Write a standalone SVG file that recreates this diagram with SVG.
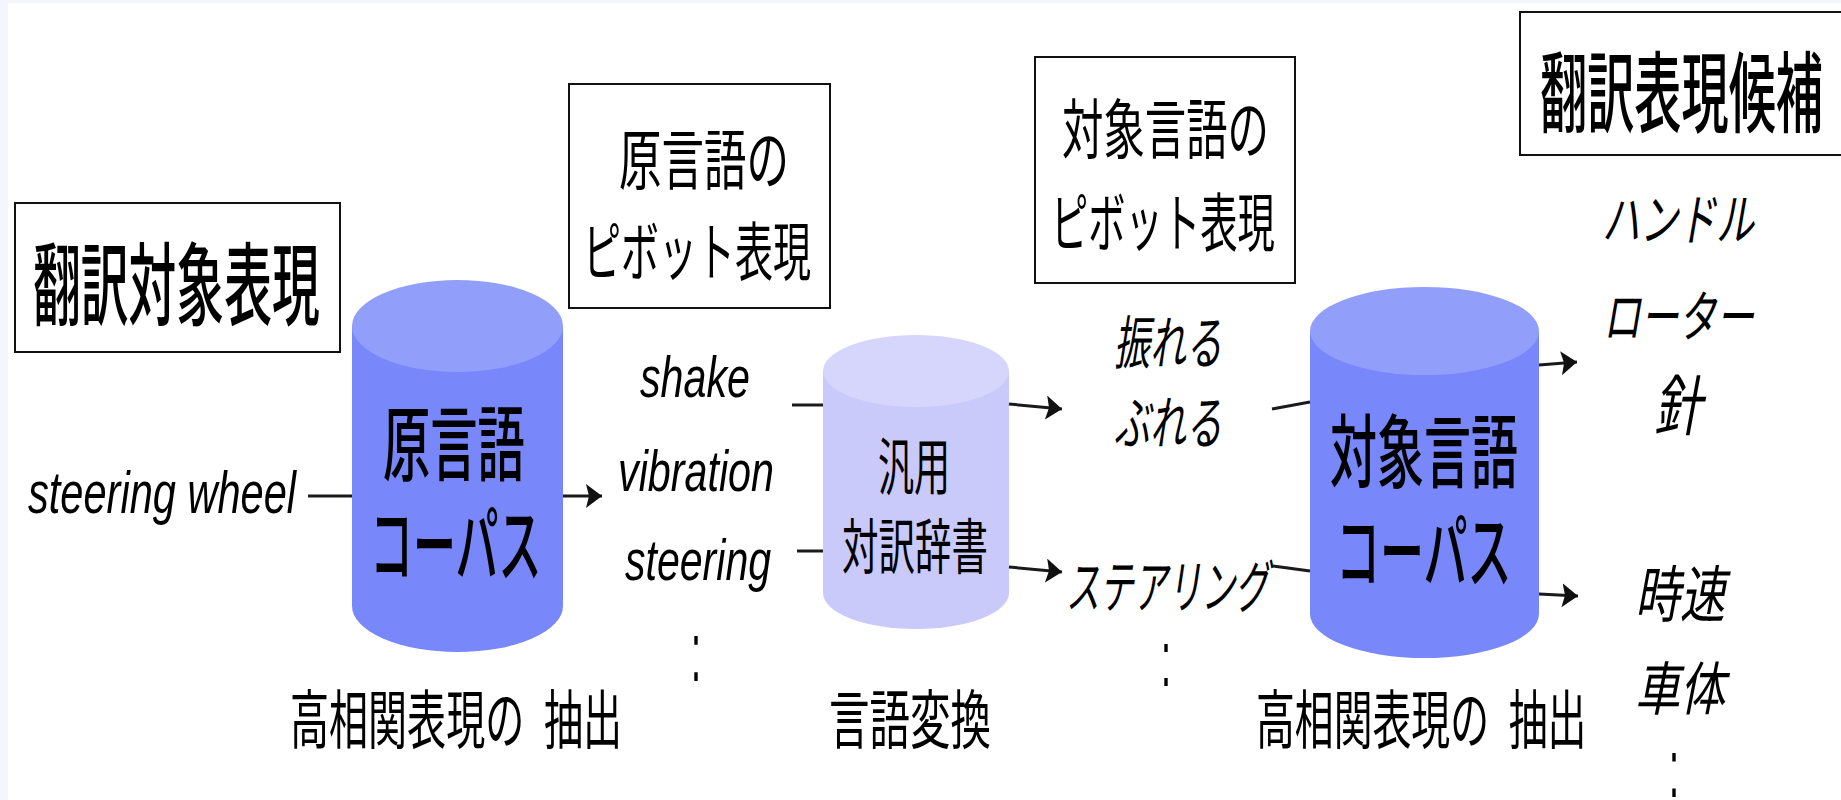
<svg xmlns="http://www.w3.org/2000/svg" width="1841" height="800" viewBox="0 0 1841 800">
<style>
.jp{font-family:"Noto Sans CJK JP","Noto Sans CJK SC",sans-serif;fill:#000}
.it{font-style:italic}
.md{font-weight:500}
.en{font-family:"Liberation Sans",Arial,sans-serif;font-style:italic;fill:#000}
.dots{font-family:"Liberation Sans",Arial,sans-serif;fill:#000}
.box{fill:#fff;stroke:#111;stroke-width:2}
.ln{stroke:#1a1a1a;stroke-width:3;fill:none}
.dark{fill:#7888fa}
.darkcap{fill:#919ffb}
.light{fill:#c9c9fa}
.lightcap{fill:#d6d6fc}
</style>
<defs>
<marker id="ah" markerUnits="userSpaceOnUse" markerWidth="18" markerHeight="26" refX="16" refY="12" orient="auto">
<path d="M0,0 L16,12 L0,24 L3,12 Z" fill="#111"/>
</marker>
</defs>
<rect x="0" y="0" width="1841" height="800" fill="#f5f5ff"/>
<rect x="8" y="3" width="1833" height="797" fill="#fff"/>

<g id="box-source">
<rect class="box" x="15" y="203" width="325" height="149"/>
<text class="jp md" font-size="90" transform="translate(33,318) scale(0.531,1)">翻訳対象表現</text>
</g>

<g id="box-src-pivot">
<rect class="box" x="569" y="84" width="261" height="224"/>
<text class="jp" font-size="66" transform="translate(619,184) scale(0.644,1)">原言語の</text>
<text class="jp" font-size="64" transform="translate(583,275) scale(0.594,1)">ピボット表現</text>
</g>

<g id="box-tgt-pivot">
<rect class="box" x="1035" y="57" width="260" height="226"/>
<text class="jp" font-size="65" transform="translate(1062,153) scale(0.637,1)">対象言語の</text>
<text class="jp" font-size="64" transform="translate(1051,246) scale(0.583,1)">ピボット表現</text>
</g>

<g id="box-candidates">
<rect class="box" x="1520" y="12" width="330" height="143"/>
<text class="jp md" font-size="88" transform="translate(1540,125) scale(0.536,1)">翻訳表現候補</text>
</g>

<g id="cyl-src-corpus">
<path class="dark" d="M352,326 V606 A105.5,46 0 0 0 563,606 V326 Z"/>
<ellipse class="darkcap" cx="457.5" cy="326" rx="105.5" ry="46"/>
<text class="jp md" font-size="82" transform="translate(383,474) scale(0.577,1)">原言語</text>
<text class="jp md" font-size="82" transform="translate(370,575) scale(0.524,1)">コーパス</text>
</g>

<g id="cyl-dict">
<path class="light" d="M823,371 V593 A93,36 0 0 0 1009,593 V371 Z"/>
<ellipse class="lightcap" cx="916" cy="371" rx="93" ry="36"/>
<text class="jp" font-size="62" transform="translate(878,490) scale(0.581,1)">汎用</text>
<text class="jp" font-size="60" transform="translate(842,569) scale(0.608,1)">対訳辞書</text>
</g>

<g id="cyl-tgt-corpus">
<path class="dark" d="M1310,331 V614 A114.5,44 0 0 0 1539,614 V331 Z"/>
<ellipse class="darkcap" cx="1424.5" cy="331" rx="114.5" ry="44"/>
<text class="jp md" font-size="80" transform="translate(1330,481) scale(0.5875,1)">対象言語</text>
<text class="jp md" font-size="80" transform="translate(1336,581) scale(0.55,1)">コーパス</text>
</g>

<g id="input-term">
<text class="en" font-size="60" transform="translate(28,513) scale(0.693,1)">steering wheel</text>
</g>

<g id="src-pivot-terms">
<text class="en" font-size="58" transform="translate(640,397) scale(0.711,1)">shake</text>
<text class="en" font-size="58" transform="translate(618,491) scale(0.712,1)">vibration</text>
<text class="en" font-size="58" transform="translate(625,580) scale(0.708,1)">steering</text>
<text class="dots" font-size="86" transform="translate(691,681) scale(0.418,1)">:</text>
</g>

<g id="tgt-pivot-terms">
<text class="jp it" font-size="58" transform="translate(1114,364) scale(0.621,1)">振れる</text>
<text class="jp it" font-size="58" transform="translate(1114,444) scale(0.621,1)">ぶれる</text>
<text class="jp it" font-size="58" transform="translate(1066,608) scale(0.583,1)">ステアリング</text>
<text class="dots" font-size="79" transform="translate(1161,686) scale(0.455,1)">:</text>
</g>

<g id="candidate-terms">
<text class="jp it" font-size="56" transform="translate(1602,240) scale(0.679,1)">ハンドル</text>
<text class="jp it" font-size="56" transform="translate(1603,337) scale(0.674,1)">ローター</text>
<text class="jp it" font-size="66" transform="translate(1654,430) scale(0.727,1)">針</text>
<text class="jp it" font-size="62" transform="translate(1635,617) scale(0.726,1)">時速</text>
<text class="jp it" font-size="58" transform="translate(1635,710) scale(0.776,1)">車体</text>
<text class="dots" font-size="84" transform="translate(1669,797) scale(0.428,1)">:</text>
</g>

<g id="step-labels">
<text class="jp" font-size="64" word-spacing="18" transform="translate(290,743) scale(0.61,1)">高相関表現の 抽出</text>
<text class="jp" font-size="64" transform="translate(829,743) scale(0.633,1)">言語変換</text>
<text class="jp" font-size="64" word-spacing="18" transform="translate(1256,743) scale(0.607,1)">高相関表現の 抽出</text>
</g>

<g id="connectors">
<line class="ln" x1="308" y1="496" x2="352" y2="496"/>
<line class="ln" x1="563" y1="496" x2="602" y2="496" marker-end="url(#ah)"/>
<line class="ln" x1="792" y1="405" x2="823" y2="405"/>
<line class="ln" x1="797" y1="551" x2="823" y2="551"/>
<line class="ln" x1="1009" y1="404" x2="1062" y2="409" marker-end="url(#ah)"/>
<line class="ln" x1="1009" y1="567" x2="1062" y2="572" marker-end="url(#ah)"/>
<line class="ln" x1="1272" y1="409" x2="1310" y2="402"/>
<line class="ln" x1="1273" y1="566" x2="1310" y2="571"/>
<line class="ln" x1="1539" y1="365" x2="1577" y2="362" marker-end="url(#ah)"/>
<line class="ln" x1="1539" y1="594" x2="1578" y2="596" marker-end="url(#ah)"/>
</g>
</svg>
